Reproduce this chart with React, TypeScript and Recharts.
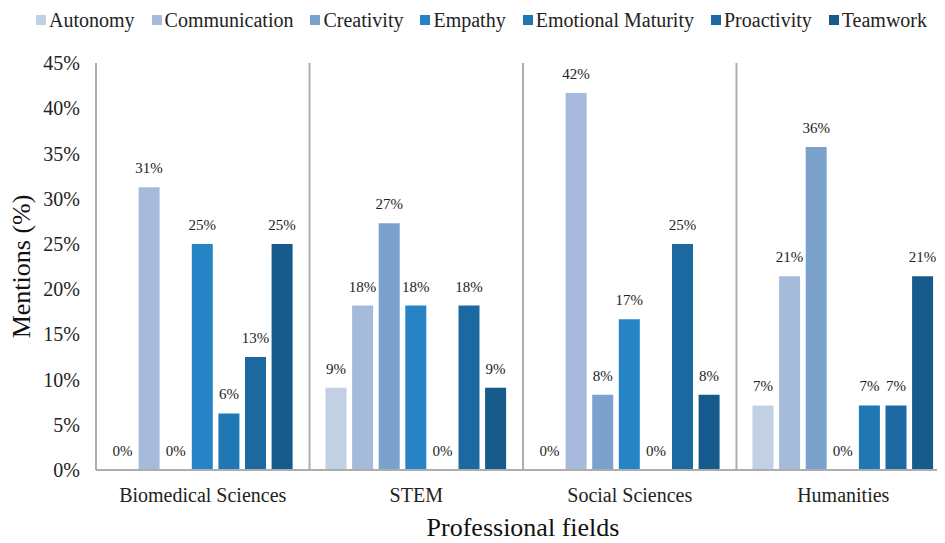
import React from 'react';
import { BarChart, Bar, XAxis, YAxis, CartesianGrid, Legend, LabelList } from 'recharts';

const categories = ['Biomedical Sciences', 'STEM', 'Social Sciences', 'Humanities'];
const seriesNames = ['Autonomy', 'Communication', 'Creativity', 'Empathy', 'Emotional Maturity', 'Proactivity', 'Teamwork'];
const autonomy = [0, 9.09, 0, 7.14];
const communication = [31.25, 18.18, 41.67, 21.43];
const creativity = [0, 27.27, 8.33, 35.71];
const empathy = [25, 18.18, 16.67, 0];
const emotionalMaturity = [6.25, 0, 0, 7.14];
const proactivity = [12.5, 18.18, 25, 7.14];
const teamwork = [25, 9.09, 8.33, 21.43];
const yTicks = [0, 5, 10, 15, 20, 25, 30, 35, 40, 45];

const colors = ['#c2d0e4', '#a6bbdb', '#7ba2cd', '#2683c6', '#1f77b3', '#1c69a2', '#155a8a'];
const seriesValues = [autonomy, communication, creativity, empathy, emotionalMaturity, proactivity, teamwork];

const data = categories.map((c, i) => {
  const row: Record<string, string | number> = { category: c };
  seriesNames.forEach((s, j) => {
    row[s] = seriesValues[j][i];
  });
  return row;
});

const FONT = "'Liberation Serif', 'Times New Roman', serif";
const AXIS = '#adadad';

const LegendContent = () => (
  <div
    style={{
      display: 'flex',
      justifyContent: 'center',
      alignItems: 'center',
      fontFamily: FONT,
      fontSize: 20,
      color: '#222',
      lineHeight: '20px',
      height: 24,
      whiteSpace: 'nowrap',
      paddingLeft: 10,
    }}
  >
    {seriesNames.map((s, i) => (
      <div key={s} style={{ display: 'flex', alignItems: 'center', marginRight: i < seriesNames.length - 1 ? 17 : 0 }}>
        <span style={{ display: 'inline-block', width: 10, height: 10, background: colors[i], marginRight: 3 }} />
        <span>{s}</span>
      </div>
    ))}
  </div>
);

const renderValueLabel = (props: any) => {
  const { x, y, width, value } = props;
  const v = Array.isArray(value) ? value[1] - value[0] : Number(value);
  return (
    <text
      x={Number(x) + Number(width) / 2}
      y={Number(y) - 14}
      textAnchor="middle"
      fontFamily={FONT}
      fontSize={15}
      fill="#222"
    >
      {`${Math.round(v)}%`}
    </text>
  );
};

const zeroMin = (v: number) => (v === 0 ? 0.01 : 0);

export default function App() {
  return (
    <div style={{ width: 937, height: 535, overflow: 'hidden', fontFamily: FONT }}>
      <BarChart
        width={945}
        height={535}
        data={data}
        margin={{ top: 31, right: 3, bottom: 0, left: 0 }}
        barSize={21}
        barGap={5.6}
      >
        <Legend verticalAlign="top" align="center" content={<LegendContent />} wrapperStyle={{ top: 0, left: 0, width: 937 }} />
        <CartesianGrid
          horizontal={false}
          vertical
          stroke={AXIS}
          strokeWidth={2}
          verticalCoordinatesGenerator={({ offset }: any) =>
            [1, 2, 3].map((i) => offset.left + (offset.width * i) / categories.length)
          }
        />
        <XAxis
          dataKey="category"
          height={73}
          tickLine={false}
          tickMargin={12}
          axisLine={{ stroke: AXIS, strokeWidth: 2 }}
          tick={{ fontFamily: FONT, fontSize: 20, fill: '#222' }}
          label={{ value: 'Professional fields', position: 'insideBottom', offset: 7, fontFamily: FONT, fontSize: 26, fill: '#111' }}
        />
        <YAxis
          width={88}
          domain={[0, 45]}
          ticks={yTicks}
          interval={0}
          tickLine={false}
          tickMargin={10}
          axisLine={{ stroke: AXIS, strokeWidth: 2 }}
          tickFormatter={(v: number) => `${v}%`}
          tick={{ fontFamily: FONT, fontSize: 20, fill: '#222' }}
          label={{ value: 'Mentions (%)', angle: -90, position: 'center', dx: -31, fontFamily: FONT, fontSize: 26, fill: '#111' }}
        />
        {seriesNames.map((s, i) => (
          <Bar key={s} dataKey={s} fill={colors[i]} minPointSize={zeroMin as any} isAnimationActive={false}>
            <LabelList dataKey={s} content={renderValueLabel} />
          </Bar>
        ))}
      </BarChart>
    </div>
  );
}
